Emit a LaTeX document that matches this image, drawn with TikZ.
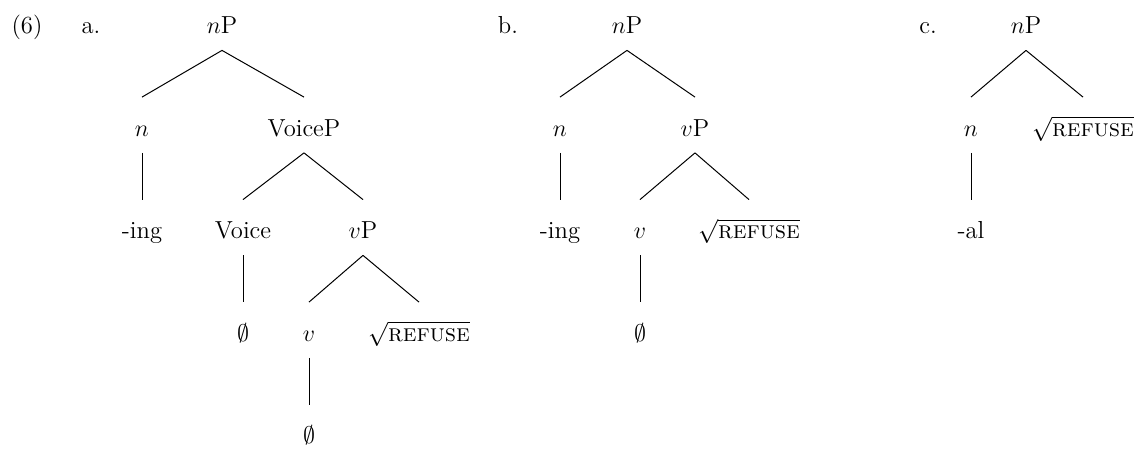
\documentclass[tikz,border=0pt]{standalone}
\usepackage{amsmath,amssymb}
\usetikzlibrary{positioning}

\begin{document}
\begin{tikzpicture}[
  x=0.5pt, y=-0.5pt,
  lbl/.style={inner sep=0pt, anchor=base, text height=19.5pt, text depth=8pt,
              font=\fontsize{12.3}{15}\selectfont},
  exno/.style={inner sep=0pt, anchor=base, font=\fontsize{12.3}{15}\selectfont},
  br/.style={line width=0.5pt, color=black},
]
\useasboundingbox (0,0) rectangle (1136,453);

% --- Example labels ---
\node[exno] (ex) at (27,34) {(6)};
\node[exno] (la) at (91,34) {a.};
\node[exno] (lb) at (508,34) {b.};
\node[exno] (lc) at (928,34) {c.};

% --- Tree a ---
\node[lbl] (a1) at (222,34) {$n$P};
\node[lbl] (a2) at (142,136.5) {$n$};
\node[lbl] (a3) at (304,136.5) {VoiceP};
\node[lbl] (a4) at (142,239) {-ing};
\node[lbl] (a5) at (243,239) {Voice};
\node[lbl] (a6) at (363,239) {$v$P};
\node[lbl] (a7) at (243,341.5) {$\emptyset$};
\node[lbl] (a8) at (309,341.5) {$v$};
\node[lbl] (a9) at (419,341.5) {$\sqrt{\text{\textsc{refuse}}}$};
\node[lbl] (a10) at (309,444) {$\emptyset$};

% --- Tree b ---
\node[lbl] (b1) at (627,34) {$n$P};
\node[lbl] (b2) at (560,136.5) {$n$};
\node[lbl] (b3) at (695,136.5) {$v$P};
\node[lbl] (b4) at (560,239) {-ing};
\node[lbl] (b5) at (640,239) {$v$};
\node[lbl] (b6) at (749,239) {$\sqrt{\text{\textsc{refuse}}}$};
\node[lbl] (b7) at (640,341.5) {$\emptyset$};

% --- Tree c ---
\node[lbl] (c1) at (1026,34) {$n$P};
\node[lbl] (c2) at (971,136.5) {$n$};
\node[lbl] (c3) at (1083,136.5) {$\sqrt{\text{\textsc{refuse}}}$};
\node[lbl] (c4) at (971,239) {-al};

% --- Branches ---
\draw[br] (a1.south) -- (a2.north);
\draw[br] (a1.south) -- (a3.north);
\draw[br] (a2.south) -- (a4.north);
\draw[br] (a3.south) -- (a5.north);
\draw[br] (a3.south) -- (a6.north);
\draw[br] (a5.south) -- (a7.north);
\draw[br] (a6.south) -- (a8.north);
\draw[br] (a6.south) -- (a9.north);
\draw[br] (a8.south) -- (a10.north);

\draw[br] (b1.south) -- (b2.north);
\draw[br] (b1.south) -- (b3.north);
\draw[br] (b2.south) -- (b4.north);
\draw[br] (b3.south) -- (b5.north);
\draw[br] (b3.south) -- (b6.north);
\draw[br] (b5.south) -- (b7.north);

\draw[br] (c1.south) -- (c2.north);
\draw[br] (c1.south) -- (c3.north);
\draw[br] (c2.south) -- (c4.north);

\end{tikzpicture}
\end{document}
